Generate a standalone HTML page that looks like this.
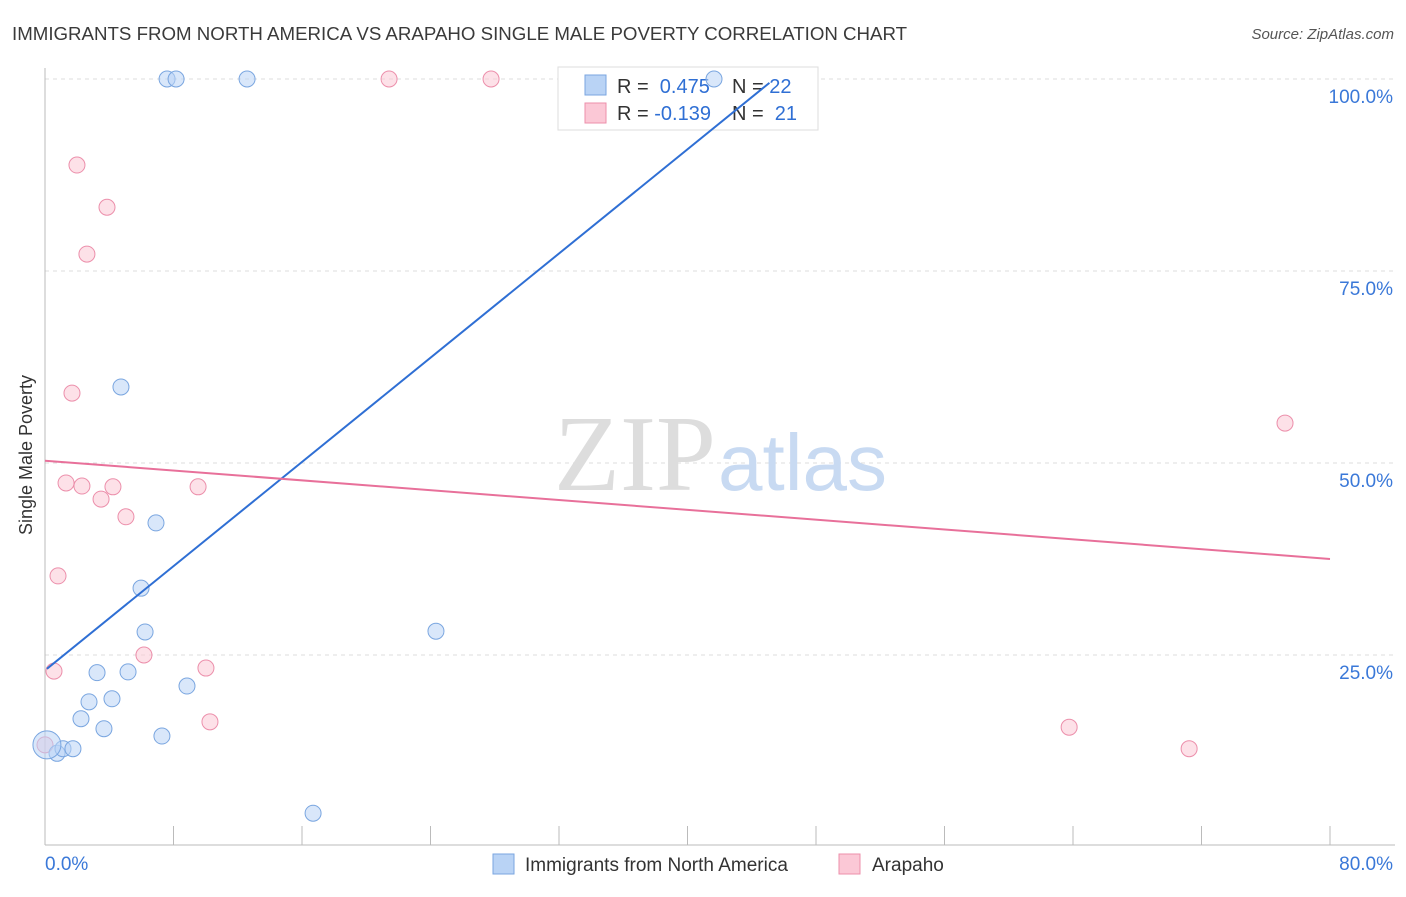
<!DOCTYPE html>
<html><head><meta charset="utf-8"><style>
body{margin:0;background:#fff;font-family:"Liberation Sans",sans-serif}
svg text{font-family:"Liberation Sans",sans-serif}
</style></head><body>
<svg width="1406" height="892" xmlns="http://www.w3.org/2000/svg">
<text x="12" y="40" font-size="18.7" fill="#3a3a3a">IMMIGRANTS FROM NORTH AMERICA VS ARAPAHO SINGLE MALE POVERTY CORRELATION CHART</text>
<text x="1394" y="39" font-size="15" fill="#555" font-style="italic" text-anchor="end">Source: ZipAtlas.com</text>
<g id="grid"></g>
<text x="716" y="490" font-size="108" fill="#ddd" text-anchor="end" style="font-family:'Liberation Serif',serif">ZIP</text>
<text x="718" y="490" font-size="80" fill="#c8daf2">atlas</text>
<g>
<rect x="558" y="67" width="260" height="63" fill="#fff" stroke="#ddd"/>
<rect x="585" y="75" width="21" height="20" fill="#b9d3f5" stroke="#7aa6e0"/>
<rect x="585" y="103" width="21" height="20" fill="#fbc8d6" stroke="#ec8fab"/>
<text x="617" y="93" font-size="20" fill="#333">R = <tspan fill="#2f6fd4">&#160;0.475</tspan></text>
<text x="732" y="93" font-size="20" fill="#333">N = <tspan fill="#2f6fd4">22</tspan></text>
<text x="617" y="120" font-size="20" fill="#333">R = <tspan fill="#2f6fd4">-0.139</tspan></text>
<text x="732" y="120" font-size="20" fill="#333">N = <tspan fill="#2f6fd4">&#160;21</tspan></text>
</g>
<g id="marks"></g>
<text x="-455" y="32" transform="rotate(-90)" font-size="18" fill="#333" text-anchor="middle">Single Male Poverty</text>
<g>
<rect x="493" y="854" width="21" height="20" fill="#b9d3f5" stroke="#7aa6e0"/>
<text x="525" y="871" font-size="19" fill="#333">Immigrants from North America</text>
<rect x="839" y="854" width="21" height="20" fill="#fbc8d6" stroke="#ec8fab"/>
<text x="872" y="871" font-size="19" fill="#333">Arapaho</text>
</g>
</svg>
<script>
const xTicks=[0,8,16,24,32,40,48,56,64,72,80];
const yTicks=[25,50,75,100];
const yTickLabels=["25.0%","50.0%","75.0%","100.0%"];
const blueX=[7.6,8.16,12.58,41.65,4.73,6.91,5.98,6.23,24.34,3.24,5.17,8.84,2.74,4.17,2.24,3.67,7.28,0.75,1.12,1.74,0.12,16.69];
const blueY=[100,100,100,100,59.9,42.2,33.7,28.0,28.1,22.7,22.8,20.96,18.9,19.3,16.7,15.4,14.45,12.2,12.8,12.8,13.3,4.4];
const pinkX=[21.42,27.77,1.99,3.86,2.61,1.68,77.2,1.31,2.3,4.23,9.53,3.49,5.04,0.81,6.16,0.56,10.02,10.27,63.76,71.23,0];
const pinkY=[100,100,88.8,83.3,77.2,59.1,55.2,47.4,47.0,46.9,46.9,45.3,43.0,35.3,25.0,22.9,23.3,16.3,15.6,12.8,13.3];
const blueTrend=[[0.12,23.2],[45.1,99.5]];
const pinkTrend=[[0,50.3],[80,37.5]];
const NS="http://www.w3.org/2000/svg";
const X=v=>45+v/80*1285, Y=v=>847-v/100*768;
function mk(t,a,p){const e=document.createElementNS(NS,t);for(const k in a)e.setAttribute(k,a[k]);p.appendChild(e);return e;}
const g=document.getElementById('grid'),m=document.getElementById('marks');
yTicks.forEach((t,i)=>{
 const l=mk('line',{x1:45,x2:1395,y1:Y(t),y2:Y(t),stroke:'#ddd','stroke-dasharray':'4,4'},g);
 
 
 const tx=mk('text',{x:1393,y:Y(t)+24,'font-size':19,fill:'#3a78d8','text-anchor':'end'},g);
 tx.textContent=yTickLabels[i];
 
 
});
const ax=mk('line',{x1:45,x2:1395,y1:845,y2:845,stroke:'#bbb'},g);


const ay=mk('line',{x1:45,x2:45,y1:68,y2:845,stroke:'#bbb'},g);


xTicks.forEach(t=>{const l=mk('line',{x1:X(t),x2:X(t),y1:826,y2:845,stroke:'#bbb'},g);
 
 });
[[0,'0.0%','start',45],[80,'80.0%','end',1393]].forEach(d=>{const t=mk('text',{x:d[3],y:870,'font-size':19,fill:'#3a78d8','text-anchor':d[2]},g);t.textContent=d[1];
 
 });
pinkX.forEach((x,i)=>{const c=mk('circle',{cx:X(x),cy:Y(pinkY[i]),r:8,fill:'#fbc8d6','fill-opacity':0.55,stroke:'#ec8fab','stroke-width':1},m);
 
 });
blueX.forEach((x,i)=>{const c=mk('circle',{cx:X(x),cy:Y(blueY[i]),r:i==20?14:8,fill:'#b9d3f5','fill-opacity':0.55,stroke:'#7aa6e0','stroke-width':1},m);
 
 });
const bl=mk('line',{x1:X(blueTrend[0][0]),y1:Y(blueTrend[0][1]),x2:X(blueTrend[1][0]),y2:Y(blueTrend[1][1]),stroke:'#2f6fd4','stroke-width':2},m);


const pl=mk('line',{x1:X(pinkTrend[0][0]),y1:Y(pinkTrend[0][1]),x2:X(pinkTrend[1][0]),y2:Y(pinkTrend[1][1]),stroke:'#e8709a','stroke-width':2},m);


</script>
</body></html>
